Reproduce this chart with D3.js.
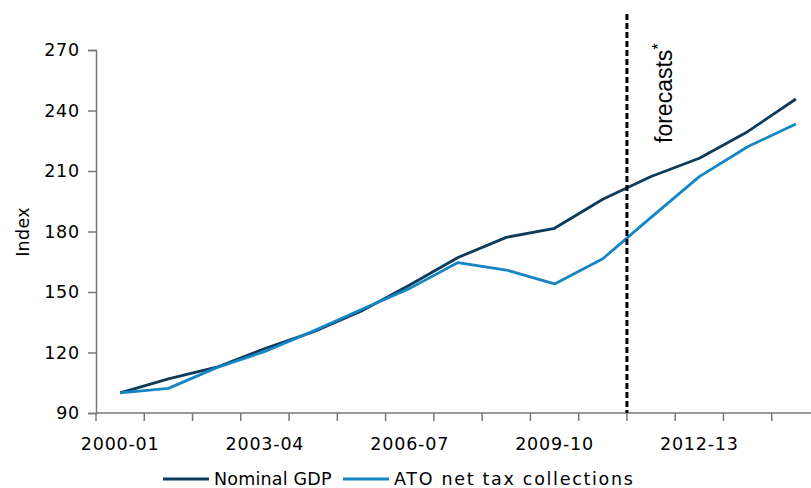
<!DOCTYPE html>
<html>
<head>
<meta charset="utf-8">
<script src="https://cdn.jsdelivr.net/npm/d3@7"></script>
<style>
  body { margin: 0; background: #fff; }
  svg text { font-family: "DejaVu Sans", Verdana, sans-serif; }
</style>
</head>
<body>
<div id="chart"></div>
<script>
// Financial years, index 2000-01 = 100
var years = ["2000-01", "2001-02", "2002-03", "2003-04", "2004-05", "2005-06", "2006-07",
  "2007-08", "2008-09", "2009-10", "2010-11", "2011-12", "2012-13", "2013-14", "2014-15"];
var gdp = [100, 106.9, 112.7, 122, 130.2, 140.6, 153.5, 167.1, 177.1, 181.6, 196, 207.3, 216.3, 229.5, 245.7];
var ato = [100, 102.2, 112.5, 120.5, 130.6, 141.3, 151.8, 164.6, 160.9, 154, 166.5, 187, 207.2, 222, 233.3];
var yTicks = [90, 120, 150, 180, 210, 240, 270];
var xLabels = ["2000-01", "2003-04", "2006-07", "2009-10", "2012-13"];
var forecastFrom = "2011-12";

var width = 811, height = 488;
var colors = { gdp: "#0d3b5b", ato: "#1586c4" };

var svg = d3.select("#chart").append("svg")
  .attr("width", width)
  .attr("height", height);

var x = d3.scaleBand().domain(years).range([96, 820]).padding(0);
var y = d3.scaleLinear().domain([90, 270]).range([413, 50]);

// y axis
var yAxis = svg.append("g")
  .attr("transform", "translate(96,0)")
  .call(d3.axisLeft(y).tickValues(yTicks).tickSize(8).tickPadding(8));

// x axis: ticks at band boundaries, labels every third year
var xAxis = svg.append("g")
  .attr("transform", "translate(0,413)");
xAxis.append("line")
  .attr("x1", 96).attr("x2", width)
  .attr("y1", 0).attr("y2", 0);
xAxis.selectAll(".tick")
  .data(years)
  .enter()
  .append("line")
  .attr("class", "tick")
  .attr("x1", function (d) { return x(d); })
  .attr("x2", function (d) { return x(d); })
  .attr("y1", 0).attr("y2", 8);
xAxis.selectAll("text")
  .data(xLabels)
  .enter()
  .append("text")
  .attr("x", function (d) { return x(d) + x.bandwidth() / 2; })
  .attr("y", 37)
  .attr("text-anchor", "middle")
  .text(function (d) { return d; });

[yAxis, xAxis].forEach(function (g) {
  g.select(".domain").attr("stroke", "#777").attr("stroke-width", 1.5);
  g.selectAll("line").attr("stroke", "#777").attr("stroke-width", 1.5);
  g.selectAll("text")
    .style("font-size", "17.5px")
    .style("letter-spacing", "0.8px")
    .attr("fill", "#000");
});

svg.append("text")
  .attr("transform", "translate(29,232) rotate(-90)")
  .attr("text-anchor", "middle")
  .style("font-size", "17.5px")
  .style("letter-spacing", "0.3px")
  .text("Index");

// lines
var line = d3.line()
  .x(function (d, i) { return x(years[i]) + x.bandwidth() / 2; })
  .y(function (d) { return y(d); });

svg.append("path")
  .datum(gdp)
  .attr("fill", "none")
  .attr("stroke", colors.gdp)
  .attr("stroke-width", 2.8)
  .attr("stroke-linejoin", "round")
  .attr("d", line);

svg.append("path")
  .datum(ato)
  .attr("fill", "none")
  .attr("stroke", colors.ato)
  .attr("stroke-width", 2.8)
  .attr("stroke-linejoin", "round")
  .attr("d", line);

// forecast marker
var fx = x(forecastFrom);
svg.append("line")
  .attr("x1", fx).attr("x2", fx)
  .attr("y1", 14).attr("y2", 413)
  .attr("stroke", "#000")
  .attr("stroke-width", 3)
  .attr("stroke-dasharray", "6,3");

var ft = svg.append("text")
  .attr("transform", "translate(" + (fx + 45) + ",143) rotate(-90)")
  .style("font-family", "'Liberation Sans', Arial, sans-serif")
  .style("font-size", "23px");
ft.append("tspan").text("forecasts");
ft.append("tspan").attr("dy", -8).style("font-size", "17px").text("*");

// legend
var legend = [
  { name: "Nominal GDP", color: colors.gdp, x: 163, spacing: 0.2 },
  { name: "ATO net tax collections", color: colors.ato, x: 343, spacing: 1.7 }
];
var lg = svg.selectAll(".legend")
  .data(legend)
  .enter()
  .append("g")
  .attr("transform", function (d) { return "translate(" + d.x + ",479)"; });
lg.append("line")
  .attr("x1", 0).attr("x2", 46)
  .attr("stroke", function (d) { return d.color; })
  .attr("stroke-width", 2.8);
lg.append("text")
  .attr("x", 51)
  .attr("y", 6)
  .style("font-size", "17.5px")
  .style("letter-spacing", function (d) { return d.spacing + "px"; })
  .text(function (d) { return d.name; });
</script>
</body>
</html>
